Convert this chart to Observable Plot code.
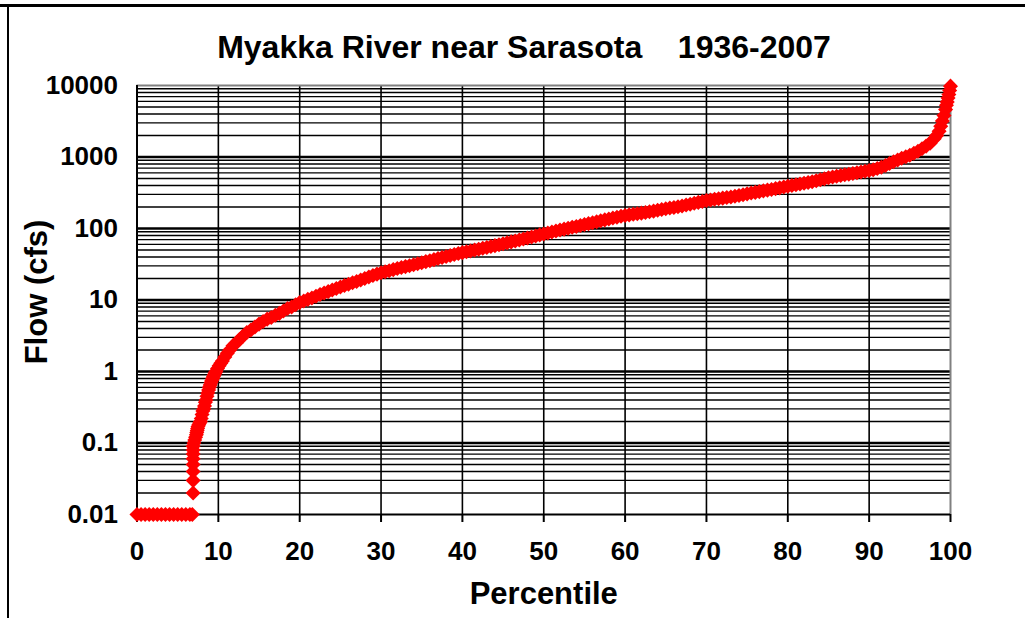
<!DOCTYPE html>
<html>
<head>
<meta charset="utf-8">
<script src="https://cdn.jsdelivr.net/npm/d3@7"></script>
<script src="https://cdn.jsdelivr.net/npm/@observablehq/plot@0.6"></script>
<style>
  html, body { margin: 0; padding: 0; background: #fff; }
  #wrap { position: relative; width: 1025px; height: 618px; overflow: hidden; font-family: "Liberation Sans", Arial, sans-serif; }
  #borderTop { position: absolute; left: 0; top: 4px; width: 1025px; height: 3px; background: #000; }
  #borderLeft { position: absolute; left: 7px; top: 4px; width: 2px; height: 614px; background: #000; }
  #title { position: absolute; left: 0; top: 28px; width: 1048px; text-align: center; font-weight: bold; font-size: 32px; white-space: pre; color: #000; line-height: 38px; }
  #chart { position: absolute; left: 0; top: 70px; }
</style>
</head>
<body>
<div id="wrap">
  <div id="borderTop"></div>
  <div id="borderLeft"></div>
  <div id="title"></div>
  <div id="chart"></div>
</div>
<script>
// Flow duration curve
const percentile = [
  0, 0.5, 1, 1.5, 2, 2.5, 3, 3.5, 4, 4.5, 5, 5.5, 6, 6.5, 6.8,
  6.9, 6.9, 6.9, 6.9, 6.9, 6.9, 6.9, 6.9, 7.0,
  7.1, 7.2, 7.3, 7.35, 7.4, 7.45, 7.5, 7.6, 7.7, 7.8, 7.9, 8.0, 8.1, 8.2, 8.3, 8.4, 8.5, 8.6, 8.7, 8.8, 8.9,
  9.0, 9.1, 9.2, 9.3, 9.4, 9.5, 9.6, 9.7, 9.9, 10.1, 10.3, 10.5, 10.8, 11.1, 11.4, 11.8, 12.2, 12.6, 13.0, 13.5,
  14, 14.5, 15, 15.5, 16, 16.5, 17, 17.5, 18, 18.5, 19, 19.5, 20, 20.5, 21, 21.5, 22, 22.5, 23, 23.5,
  24, 24.5, 25, 25.5, 26, 26.5, 27, 27.5, 28, 28.5, 29, 29.5, 30, 30.5, 31, 31.5, 32, 32.5, 33, 33.5,
  34, 34.5, 35, 35.5, 36, 36.5, 37, 37.5, 38, 38.5, 39, 39.5, 40, 40.5, 41, 41.5, 42, 42.5, 43, 43.5,
  44, 44.5, 45, 45.5, 46, 46.5, 47, 47.5, 48, 48.5, 49, 49.5, 50, 50.5, 51, 51.5, 52, 52.5, 53, 53.5,
  54, 54.5, 55, 55.5, 56, 56.5, 57, 57.5, 58, 58.5, 59, 59.5, 60, 60.5, 61, 61.5, 62, 62.5, 63, 63.5,
  64, 64.5, 65, 65.5, 66, 66.5, 67, 67.5, 68, 68.5, 69, 69.5, 70, 70.5, 71, 71.5, 72, 72.5, 73, 73.5,
  74, 74.5, 75, 75.5, 76, 76.5, 77, 77.5, 78, 78.5, 79, 79.5, 80, 80.5, 81, 81.5, 82, 82.5, 83, 83.5,
  84, 84.5, 85, 85.5, 86, 86.5, 87, 87.5, 88, 88.5, 89, 89.5, 90, 90.5, 91, 91.5, 92, 92.5, 93, 93.5,
  94, 94.5, 95, 95.5, 96, 96.5, 97, 97.5, 98, 98.3, 98.6, 98.8, 99, 99.2, 99.4, 99.5, 99.6, 99.7, 99.8, 99.9, 100
];
const flow = [
  0.01, 0.01, 0.01, 0.01, 0.01, 0.01, 0.01, 0.01, 0.01, 0.01, 0.01, 0.01, 0.01, 0.01, 0.01,
  0.02, 0.03, 0.04, 0.05, 0.06, 0.07, 0.08, 0.09, 0.1,
  0.11, 0.12, 0.13, 0.14, 0.15, 0.16, 0.17, 0.18, 0.19, 0.2, 0.22, 0.25, 0.28, 0.3, 0.33, 0.37, 0.4, 0.45, 0.5, 0.55, 0.6,
  0.65, 0.7, 0.75, 0.8, 0.85, 0.9, 0.95, 1.0, 1.1, 1.2, 1.3, 1.4, 1.6, 1.8, 2.0, 2.3, 2.5, 2.8, 3.1, 3.5,
  3.8, 4.2, 4.6, 5.0, 5.4, 5.7, 6.1, 6.5, 7.0, 7.6, 8.0, 8.6, 9.2, 9.7, 10.2, 10.7, 11.3, 11.9, 12.5, 13.1,
  13.8, 14.5, 15.2, 15.9, 16.6, 17.4, 18.2, 19.1, 20, 21, 22, 23, 24, 24.8, 25.7, 26.6, 27.5, 28.4, 29.3, 30.2,
  31.1, 32.2, 33.3, 34.4, 35.5, 36.7, 38, 39.2, 40.5, 41.8, 43.2, 44.6, 46, 47.3, 48.6, 50, 51.4, 52.9, 54.4, 56,
  57.6, 59.2, 61, 63, 65, 67, 69, 71.3, 73.7, 76.2, 78.8, 81.4, 84, 86.7, 89.5, 92.3, 95, 98, 101, 104,
  107, 110, 113.5, 117, 120.5, 124, 128, 132, 136, 140, 144, 148, 152, 155, 158, 161, 164, 167, 171, 175,
  180, 185, 189, 193, 197, 202, 207, 213, 219, 225, 232, 239, 246, 251, 256, 261, 266, 271, 276, 282,
  289, 297, 305, 313, 320, 328, 336, 344, 352, 361, 370, 380, 390, 400, 410, 420, 430, 440, 452, 465,
  480, 496, 512, 525, 538, 550, 563, 575, 588, 602, 617, 631, 646, 665, 690, 720, 760, 810, 860, 910,
  960, 1010, 1060, 1130, 1200, 1300, 1420, 1560, 1800, 2000, 2300, 2700, 3200, 3800, 4600, 5300, 5900, 6700, 7500, 8500, 9800
];
const xTicks = [0, 10, 20, 30, 40, 50, 60, 70, 80, 90, 100];
const yTicks = [0.01, 0.1, 1, 10, 100, 1000, 10000];
const titleText = "Myakka River near Sarasota    1936-2007";
const xLabel = "Percentile";
const yLabel = "Flow (cfs)";

const data = percentile.map((p, i) => ({p, q: flow[i]}));

// minor log gridlines (2..9 in each decade)
const minorY = [];
for (const d of yTicks.slice(0, -1)) for (let k = 2; k <= 9; k++) minorY.push(+(d * k).toPrecision(3));
const innerX = xTicks.slice(1, -1);

const chart = Plot.plot({
  width: 1025,
  height: 548,
  marginLeft: 136.5,
  marginRight: 75,
  marginTop: 15,
  marginBottom: 104,
  style: {fontFamily: "'Liberation Sans', Arial, sans-serif", fontSize: "26px", fontWeight: "bold", color: "#000", background: "transparent", overflow: "visible"},
  x: {domain: [0, 100]},
  y: {type: "log", domain: [0.01, 10000]},
  marks: [
    Plot.ruleY(minorY, {stroke: "#000", strokeWidth: 1.4}),
    Plot.ruleY(yTicks.slice(1, -1), {stroke: "#000", strokeWidth: 2.6}),
    Plot.ruleX(innerX, {stroke: "#000", strokeWidth: 1.6}),
    Plot.ruleY([10000], {stroke: "#808080", strokeWidth: 2}),
    Plot.ruleX([100], {stroke: "#808080", strokeWidth: 2}),
    Plot.ruleX([0], {stroke: "#000", strokeWidth: 2}),
    Plot.ruleY([0.01], {stroke: "#000", strokeWidth: 2}),
    Plot.axisX({ticks: xTicks, tickSize: 8, tickPadding: 19, tickFormat: d => String(d), label: null, strokeWidth: 2}),
    Plot.axisY({ticks: yTicks, tickSize: 0, tickPadding: 19, tickFormat: d3.format("~g"), label: null}),
    Plot.dot(data, {x: "p", y: "q", symbol: "square", r: 6, rotate: 45, fill: "#ff0000", stroke: "none"}),
    Plot.text([xLabel], {frameAnchor: "bottom", dy: 89, fontSize: 31, fontWeight: "bold", fill: "#000"}),
    Plot.text([yLabel], {frameAnchor: "left", textAnchor: "middle", dx: -99.5, dy: -8, rotate: -90, fontSize: 31, fontWeight: "bold", fill: "#000"})
  ]
});
document.getElementById("chart").appendChild(chart);
document.getElementById("title").textContent = titleText;
</script>
</body>
</html>
